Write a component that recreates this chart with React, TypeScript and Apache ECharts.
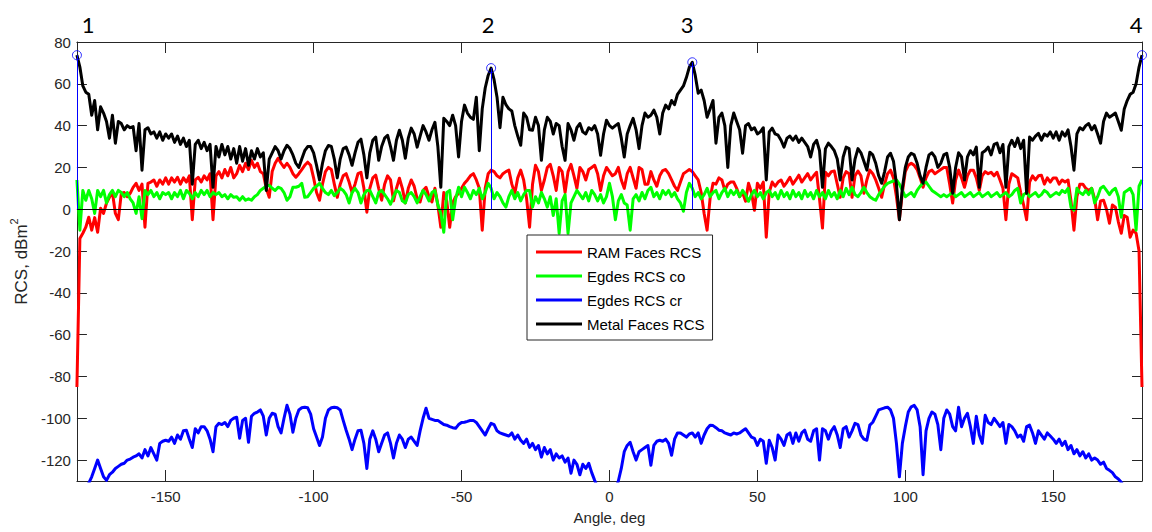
import React, { useEffect, useRef } from "react";
import * as echarts from "echarts";

// Sampling grid: one sample per degree, -180 .. 180
const ANGLE_START = -180;
const ANGLE_COUNT = 361;

const X_TICKS = [-150, -100, -50, 0, 50, 100, 150];
const Y_TICKS = [-120, -100, -80, -60, -40, -20, 0, 20, 40, 60, 80];

const SERIES_NAMES = ["RAM Faces RCS", "Egdes RCS co", "Egdes RCS cr", "Metal Faces RCS"];

// RAM Faces RCS, dBm^2 (rows of 10 degrees starting at -180)
const ramFaces = [
  -85, -14, -11.5, -8.6, -3.8, -10, -4, -11, 0.5, -2,
  3, 5.7, 8, -2, -5, 7.6, 8, 6, 7.6, 10.5,
  12.4, 9, 12, -8.6, 12.4, 13, 14, 11, 14, 12,
  15, 12, 15, 13, 15.3, 12, 15, 13, 16, -5,
  14, 15.3, 13, 16, 14, 17, -5, 16, 18, 15,
  19, 16, 20, 15, 17, 21, 18, 22, 19, 23.4,
  20, 22, 18, 17, 10, 5.7, 18, 22, 24.4, 22,
  20, 22, 20, 17, 15.3, 17, 19, 21, 22.5, 21,
  15, 8, 4.3, 12, 18, 20, 19, 12, 5.7, 12,
  16, 17, 13, 8, 12, 17, 17.7, 10, -1.4, 10,
  15, 16.3, 10, 4.3, 12, 16, 14, 4, 10, 14.8,
  10, 3, 10, 14, 11, 5, 3.5, 9, 10.5, 6,
  3.5, 10, 2, -8.6, 8, 4, -8.6, 3, 6, 7.6,
  10, 12.4, 14, 16, 17, 14, 10, -10, 10, 17,
  18.7, 18, 16, 15, 17, 18, 18.7, 12, 7.6, 15,
  18.7, 14, 5, -8.6, 12, 21, 18, 9, 14, 20,
  21.5, 16, 9, 20, 18, 8, 18, 21.5, 16, 10,
  20, 18, 14, 19, 20, 21, 17, 9, 16, 20,
  18, 16, 17, 20, 14, 10, 17, 20, 15, 10,
  20, 19, 12, 12, 18, 14, 11, 16, 18.5, 19,
  17, 14, 11, 9, 13, 17, 18, 19, 18, 16,
  14, 8, -2, -10, 5, 12.4, 12, 15, 14, 9,
  12, 13, 13, 10, 6, 8, 3.8, 12.4, 8, -0.5,
  12.4, 10, 13, -13.4, 8, 13, 11, 13, 14, 11,
  13, 15.3, 12, 14, 16.3, 13, 15, 17, 14, 16,
  17.7, 5, -9, 17.7, 16, 18, 18.3, 12, 5.7, 15,
  18, 17, 5.7, 16, 18.3, 16, 7.6, 14, 18.7, 17,
  14, 10, 5.7, 12, 17, 18.7, 15, 6, -5, 8,
  18, 21, 22, 21, 19, 15, 10.5, 15, 18, 18.7,
  17, 18, 19, 20, 20, 12, 3, 14, 18.7, 15,
  10.5, 16, 18.7, 18.7, 15, 9, 16, 18, 17, 17.7,
  16, 17.7, 14, 10, -5, 12, 17, 16, 15, 8,
  2, -5, 13, 16, 14, 16, 16.3, 12, 15, 13,
  15, 15, 12, 14, 13, 14, 4, -10, 6, 12,
  12, 10, 9, 10, 5, -5, 4, 4.3, 0, -6.7,
  2, 1, -6, -11.5, -3, -3.8, -13.4, -10, -11.5, -20,
  -85,
];

// Edges RCS, co-polar
const edgesCo = [
  14, -10, 9, 4.3, 9, 5, -2, 9, 6, 9,
  3, 7, 9, 6, 9, 8, 6, 8, 5, 3,
  -2, 6, -4.5, 9, 7, 9, 6, 8, 5, 8,
  7, 8, 5, 8, 6, 9, 5, 9, 7.6, 5,
  8, 6, 9, 7, 9, 6, 8, 7, 8, 6,
  7, 5, 7, 5.7, 6, 4.3, 6, 4.3, 5, 4.3,
  6, 7, 9, 10, 11, 11.5, 10, 9, 10.5, 10,
  8, 4.3, 6, 10.5, 10.5, 11, 12.4, 5.7, 6, 8,
  10, 11, 12.4, 10, 8, 7, 9, 6.5, 8, 10,
  9, 7, 3, 8, 10, 8, 3, 7, 9, 9,
  6, 3, 8, 9, 7, 5, 2.4, 6, 9, 8,
  4, 3, 7, 8, 6, 3, 6, 9, 7, 4,
  8, 9, 2, -2, -11, 8, 9, -5, 5, 10.5,
  6, 10.5, 8, 5, 9, 7, 10, 5, 8, 12.4,
  10, 5, 8, 6, 3, 1, 6, 9, 5, 8,
  4, 7, 9, 9, 1, 6, 3, 8, 5, 1,
  6, -3, 5, -11.5, 4, 7, -11.5, 3, 6, 9,
  7, 5, 8, 4, 9, 7, 4, 7, 3, 6,
  12.4, 6, -5, 4, 7, 3, 2, -10, 5, 7,
  4, 8, 5, 9, 10.5, 6, 8, 5, 9, 7,
  9, 6, 8, 5, 3, -1, 8, 12.4, 10, 6,
  8, 5, 7, 10, 6, 8, 9, 5, 8, 10,
  6, 9, 7, 9, 6, 9, 7, 3.8, 7, 9,
  6, 8, 5, 8, 9, 6, 8, 5, 9, 6,
  8, 5, 9, 6, 8, 5, 9, 6, 8, 5,
  9, 6, 8, 5, 9, 6, 8, 5, 9, 6,
  10, 7, 10.5, 7, 6, 8, 10.5, 8, 6, 5,
  4.3, 7, 9, 11, 12.4, 13, 13.5, 14, 12, 9,
  6, 7, 8, 6, 9, 11, 12.5, 13, 11, 9,
  8, 7, 6, 7, 6, 7, 8, 6, 7, 8,
  6, 7, 8, 6, 7, 8, 6, 7, 8, 6,
  7, 8, 6, 7, 8, 6, 7, 9, 10, 3,
  7, 8, 6, 7, 8, 6, 7, 9, 8, 6,
  7, 8, 7, 9, 8, 10, 1, -0.5, 10, 8,
  7, 9, 7, 10, 3, 6, 10, 11, 9, 7,
  9, 10, 6, -3.8, 8, 9, 10, 7, -10, 11,
  14,
];

// Edges RCS, cross-polar
const edgesCr = [
  -140, -140, -138, -135, -131, -128, -124, -120, -124, -128,
  -129.7, -127, -125.8, -124, -123, -122, -121.5, -120, -119.5, -118.6,
  -118, -117, -119, -115, -118, -114, -117, -120, -112, -111,
  -110.5, -111, -109, -112, -108, -110, -106, -105.7, -110, -114,
  -105, -107, -104, -104, -106, -110, -116, -104, -102.4, -103,
  -102, -104, -101, -100, -99.5, -109.6, -101, -100, -111.5, -99,
  -97.6, -97, -96, -99, -108, -100, -97.6, -98, -104, -107,
  -100, -93.8, -98, -106.7, -100, -96, -95, -94.7, -95, -98,
  -105, -109, -113, -109, -100, -96, -95, -94.7, -95, -96,
  -101, -105.7, -110, -115, -110, -106, -105.7, -112, -124, -110,
  -106, -110, -116, -112, -108, -107, -112, -119, -112, -108,
  -110, -114, -110, -109, -111, -113, -106, -100, -95.2, -100,
  -100.5, -101, -101, -102, -103, -103.3, -104, -104.5, -104.8, -103,
  -102, -101.9, -101.5, -101, -101, -102, -104, -106, -108, -105,
  -102.4, -103, -106, -107, -107.5, -108, -108.5, -107, -110, -108,
  -110.5, -112, -110, -113.9, -112, -115, -113, -118.6, -114, -117,
  -115, -120, -117, -119, -118, -121, -119, -126.3, -120, -122,
  -127, -122, -124, -121.5, -126, -129.7, -133, -136, -140, -142,
  -145, -140, -134, -130, -124, -116, -113, -111.5, -116, -120,
  -116, -115, -114, -113, -122.5, -113, -111, -110.5, -111, -110,
  -112, -117.7, -110, -107, -107, -108, -109, -107.5, -107, -109,
  -107, -112, -108, -105, -103.3, -103.5, -104.5, -105.7, -106, -107,
  -107.5, -108, -107, -107.5, -107, -106, -105, -107, -109, -109.6,
  -113, -110, -111, -121.5, -110.5, -114, -120, -108, -110, -113,
  -108, -107, -112, -107, -111, -107, -105.7, -110, -111, -106,
  -105, -120, -105, -106, -110, -106, -104, -108, -114, -105,
  -104, -109, -106, -102.4, -103, -108, -110, -110.5, -103.3, -101.9,
  -99, -96, -95.5, -95, -94.7, -96, -100, -112, -128, -112,
  -104, -97, -94.5, -93.8, -96, -104, -127, -106, -100, -97,
  -98, -103, -115, -100, -96, -98, -104, -106, -94.7, -104,
  -100, -97.6, -104, -112, -99, -108, -112, -98.6, -102, -103,
  -100, -102, -104, -102, -112, -103, -104, -106, -109, -108,
  -111, -104, -103.3, -107, -112, -106, -108, -110, -107, -108.5,
  -110, -112, -110, -113, -111, -115, -113, -117, -115, -118,
  -116, -119, -117, -120, -119, -120, -122, -121, -124, -124.9,
  -126, -128, -129, -130.6, -133, -135, -137, -139, -141, -143,
  -145,
];

// Metal Faces RCS
const metalFaces = [
  73.7, 68, 59, 56, 55, 45, 52, 38, 49, 46,
  42, 34, 45, 31.6, 42, 41, 38, 40, 39, 39.5,
  28, 41, 18.7, 38, 39, 36, 37, 34, 37, 33,
  36, 34, 36, 32, 35, 31, 34, 30, 33, 12,
  31, 33, 29, 32, 28, 31, 10.5, 30, 25, 31,
  26, 30, 24, 29, 22, 30, 23, 29, 21, 28,
  24, 29, 25, 27, 9, 24, 27, 30, 28, 24,
  28, 30.6, 29, 26, 22, 20, 24, 28, 30, 30,
  27, 21, 14, 22, 28, 30.5, 30, 24, 15, 24,
  29, 29.7, 26, 21, 27, 32, 33.5, 26, 15, 27,
  33, 34.5, 23.4, 30, 34, 35.4, 30, 23.4, 33, 37.8,
  33, 24.4, 34, 38.8, 36, 29.7, 35, 40, 37, 33,
  38, 41.6, 30, 10.5, 43.5, 42, 40, 45, 40, 25,
  42, 49.8, 46, 44, 43, 53.6, 28, 48, 58, 64,
  67.5, 62, 53.6, 39, 53.6, 50, 48, 47, 40, 35,
  30.6, 46, 44, 38, 37.8, 44, 40, 23.4, 38, 44,
  42, 36, 41, 40, 30, 23.4, 41, 38, 33, 39,
  41, 37, 36, 39, 38, 40, 36, 25.8, 36, 42.6,
  40, 38.8, 40, 41, 34, 25, 36, 40, 43.5, 38,
  29, 40, 46, 44, 45, 47.4, 44, 36, 46, 49.8,
  48, 52, 50, 55, 57, 59, 63, 68, 70.3, 64,
  55.5, 57, 52, 44, 48, 52, 31.6, 44, 46, 40,
  20, 40, 46, 42, 38, 26.8, 40, 41, 38, 39,
  36, 37, 39, 14, 37, 38.8, 36, 35.4, 33, 29.7,
  34, 35, 33, 35, 32, 34, 32, 30, 25, 31,
  33, 28, 10.5, 29, 31.6, 30, 28, 24, 14, 25,
  29.7, 29, 14, 24, 29, 27, 23, 18.7, 27.3, 26,
  22, 16, 12.4, 18, 25, 26.8, 23, 12, -5, 10,
  20, 25, 26.8, 26, 22, 16, 12.4, 20, 26, 27,
  25, 20, 22, 26, 26.8, 20, 7.6, 20, 27, 25,
  14, 25, 28, 26, 29.7, 10.5, 27, 28, 29.7, 26,
  31, 31.6, 27, 31, 10.5, 30, 33, 30, 34, 29,
  33, 7.6, 34.5, 33, 35, 36.3, 33, 36, 35, 37,
  34, 37, 33, 37, 35, 38, 30, 18.7, 36, 39,
  38, 40, 41, 38, 40, 36, 31.6, 42, 46, 44,
  45, 46, 42, 37.8, 48, 52, 55, 56, 60, 68,
  73.7,
];

// Specular peaks of the metal faces, numbered 1..4
const peakAngles = [-180, -40, 28, 180];
const peakValues = [73.7, 67.5, 70.3, 73.7];
const peakLabels = ["1", "2", "3", "4"];
const peakLabelX = [88, 488, 687, 1136];

const FONT = "'Liberation Sans', Arial, sans-serif";
const AXIS_COLOR = "#262626";
const LINE_WIDTH = 3;

const angles = Array.from({ length: ANGLE_COUNT }, (_, i) => ANGLE_START + i);
const pairs = (vals: number[]) => angles.map((a, i) => [a, vals[i]]);

export default function App() {
  const ref = useRef<HTMLDivElement>(null);

  useEffect(() => {
    if (!ref.current) return;
    const chart = echarts.init(ref.current, null, { renderer: "svg" });

    const lineSeries = (name: string, vals: number[], color: string, z: number) => ({
      name,
      type: "line",
      data: pairs(vals),
      showSymbol: false,
      symbol: "none",
      clip: true,
      z,
      lineStyle: { color, width: LINE_WIDTH, join: "round" },
      itemStyle: { color },
      emphasis: { disabled: true },
    });

    const stems = peakAngles.map((a, i) => [
      { coord: [a, 0] },
      { coord: [a, peakValues[i]] },
    ]);

    const commonX = {
      type: "value",
      min: -180,
      max: 180,
      splitLine: { show: false },
      axisLine: { show: true, onZero: false, lineStyle: { color: AXIS_COLOR, width: 1 } },
    };
    const commonY = {
      type: "value",
      min: -130,
      max: 80,
      splitLine: { show: false },
      axisLine: { show: true, onZero: false, lineStyle: { color: AXIS_COLOR, width: 1 } },
    };

    chart.setOption({
      animation: false,
      backgroundColor: "#ffffff",
      grid: { left: 74, right: 10, top: 42, bottom: 51, containLabel: false },
      xAxis: [
        {
          ...commonX,
          position: "bottom",
          name: "Angle, deg",
          nameLocation: "middle",
          nameGap: 29,
          nameTextStyle: { fontFamily: FONT, fontSize: 15, color: AXIS_COLOR },
          axisTick: { show: true, inside: true, length: 11, customValues: X_TICKS, lineStyle: { color: AXIS_COLOR } },
          axisLabel: { show: true, customValues: X_TICKS, margin: 8, fontFamily: FONT, fontSize: 15, color: AXIS_COLOR },
        },
        {
          ...commonX,
          position: "top",
          axisTick: { show: true, inside: true, length: 11, customValues: X_TICKS, lineStyle: { color: AXIS_COLOR } },
          axisLabel: { show: false },
        },
      ],
      yAxis: [
        {
          ...commonY,
          position: "left",
          name: "{a|RCS, dBm}{b|2}",
          nameLocation: "middle",
          nameRotate: 90,
          nameGap: 36,
          nameTextStyle: {
            color: AXIS_COLOR,
            rich: {
              a: { fontFamily: FONT, fontSize: 17, color: AXIS_COLOR, lineHeight: 22, verticalAlign: "bottom" },
              b: { fontFamily: FONT, fontSize: 11, color: AXIS_COLOR, lineHeight: 22, verticalAlign: "top" },
            },
          },
          axisTick: { show: true, inside: true, length: 10, customValues: Y_TICKS, lineStyle: { color: AXIS_COLOR } },
          axisLabel: { show: true, customValues: Y_TICKS, margin: 6, fontFamily: FONT, fontSize: 15, color: AXIS_COLOR },
        },
        {
          ...commonY,
          position: "right",
          axisTick: { show: true, inside: true, length: 10, customValues: Y_TICKS, lineStyle: { color: AXIS_COLOR } },
          axisLabel: { show: false },
        },
      ],
      legend: {
        data: SERIES_NAMES,
        orient: "vertical",
        left: 527,
        top: 235,
        icon: "rect",
        itemWidth: 46,
        itemHeight: 3,
        itemGap: 8,
        padding: [9, 8, 8, 9],
        backgroundColor: "#ffffff",
        borderColor: AXIS_COLOR,
        borderWidth: 1,
        borderRadius: 0,
        selectedMode: false,
        textStyle: { fontFamily: FONT, fontSize: 15, color: "#000000", lineHeight: 16 },
      },
      graphic: peakLabels.map((t, i) => ({
        type: "text",
        x: peakLabelX[i],
        y: 24,
        z: 10,
        style: {
          text: t,
          font: "22px Lato, 'Open Sans', sans-serif",
          fill: "#000000",
          align: "center",
          verticalAlign: "middle",
        },
      })),
      series: [
        {
          name: "zero",
          type: "line",
          data: [],
          z: 1,
          markLine: {
            silent: true,
            symbol: ["none", "none"],
            label: { show: false },
            lineStyle: { color: "#000000", width: 1, type: "solid" },
            data: [{ yAxis: 0 }],
          },
        },
        lineSeries(SERIES_NAMES[0], ramFaces, "#ff0000", 2),
        lineSeries(SERIES_NAMES[1], edgesCo, "#00ff00", 3),
        lineSeries(SERIES_NAMES[2], edgesCr, "#0000ff", 4),
        lineSeries(SERIES_NAMES[3], metalFaces, "#000000", 5),
        {
          name: "peaks",
          type: "scatter",
          data: peakAngles.map((a, i) => [a, peakValues[i]]),
          symbol: "circle",
          symbolSize: 9,
          clip: false,
          z: 8,
          itemStyle: { color: "rgba(0,0,0,0)", borderColor: "#0000ff", borderWidth: 1 },
          emphasis: { disabled: true },
          markLine: {
            silent: true,
            z: 7,
            symbol: ["none", "none"],
            label: { show: false },
            lineStyle: { color: "#0000ff", width: 1, type: "solid" },
            data: stems,
          },
        },
      ],
    });

    return () => chart.dispose();
  }, []);

  return (
    <div
      ref={ref}
      style={{ position: "absolute", left: 0, top: 0, width: 1152, height: 532, background: "#ffffff" }}
    />
  );
}
